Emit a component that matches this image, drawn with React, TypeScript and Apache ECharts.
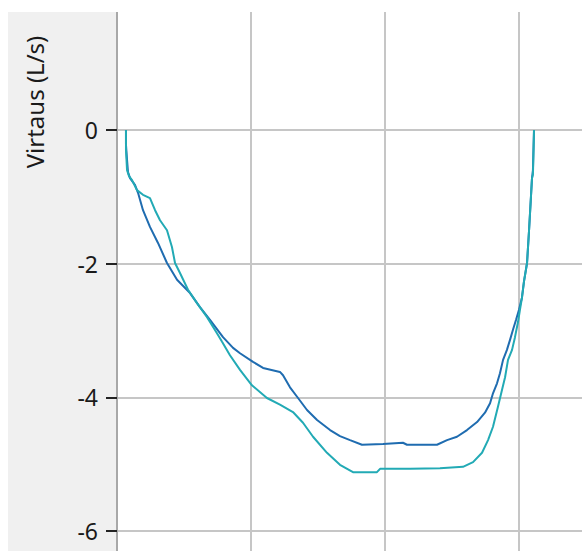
import React, { useEffect, useRef } from "react";
import * as echarts from "echarts";

const yTickLabels = [-6, -4, -2, 0];
const axisName = "Virtaus (L/s)";

// Volume (L) vs flow (L/s), first curve (dark blue)
const curveBlue: [number, number][] = [
  [0.067, 0], [0.067, -0.12], [0.067, -0.22], [0.075, -0.45], [0.082, -0.63], [0.097, -0.72],
  [0.119, -0.78], [0.134, -0.82], [0.157, -0.94], [0.194, -1.2], [0.246, -1.45], [0.306, -1.69],
  [0.373, -1.99], [0.448, -2.24], [0.545, -2.44], [0.619, -2.65], [0.694, -2.84], [0.791, -3.1],
  [0.866, -3.26], [0.918, -3.34], [1.015, -3.47], [1.09, -3.56], [1.216, -3.62], [1.239, -3.67],
  [1.291, -3.85], [1.351, -4.01], [1.418, -4.19], [1.493, -4.34], [1.59, -4.49], [1.664, -4.58],
  [1.739, -4.64], [1.828, -4.71], [1.985, -4.7], [2.134, -4.68], [2.164, -4.71], [2.388, -4.71],
  [2.463, -4.64], [2.537, -4.59], [2.612, -4.49], [2.687, -4.37], [2.746, -4.23], [2.784, -4.09],
  [2.806, -3.94], [2.836, -3.79], [2.858, -3.64], [2.881, -3.44], [2.91, -3.29], [2.933, -3.14],
  [2.955, -2.99], [2.978, -2.84], [3.0, -2.69], [3.022, -2.51], [3.037, -2.27], [3.06, -1.99],
  [3.075, -1.5], [3.09, -0.97], [3.097, -0.72], [3.104, -0.6], [3.112, 0],
];

// Second curve (teal)
const curveTeal: [number, number][] = [
  [0.067, 0], [0.067, -0.3], [0.075, -0.6], [0.09, -0.69], [0.112, -0.75], [0.149, -0.9],
  [0.194, -0.97], [0.246, -1.02], [0.284, -1.2], [0.321, -1.35], [0.373, -1.5], [0.41, -1.75],
  [0.433, -1.99], [0.47, -2.14], [0.53, -2.39], [0.597, -2.59], [0.672, -2.8], [0.746, -3.04],
  [0.784, -3.17], [0.843, -3.37], [0.918, -3.59], [1.007, -3.82], [1.119, -4.01], [1.216, -4.11],
  [1.313, -4.22], [1.388, -4.38], [1.463, -4.59], [1.567, -4.83], [1.664, -5.01], [1.761, -5.12],
  [1.94, -5.12], [1.963, -5.07], [2.187, -5.07], [2.41, -5.06], [2.582, -5.04], [2.657, -4.97],
  [2.724, -4.83], [2.769, -4.64], [2.806, -4.44], [2.843, -4.14], [2.873, -3.89], [2.896, -3.7],
  [2.918, -3.44], [2.948, -3.29], [2.97, -3.1], [2.993, -2.87], [3.007, -2.69], [3.022, -2.51],
  [3.037, -2.27], [3.06, -1.99], [3.075, -1.5], [3.09, -0.97], [3.097, -0.72], [3.104, -0.67],
  [3.112, 0],
];

export default function App() {
  const ref = useRef<HTMLDivElement>(null);
  useEffect(() => {
    if (!ref.current) return;
    const chart = echarts.init(ref.current, null, { renderer: "svg" });
    const W = 582;
    const H = 551;
    const left = 117;
    const unitX = 134;
    const unitY = 66.83;
    const y0 = 130;
    const xMin = 0, xMax = 4, yMin = -8, yMax = 2;
    const top = y0 - yMax * unitY;
    const gridH = (yMax - yMin) * unitY;
    const gridW = (xMax - xMin) * unitX;
    chart.setOption({
      animation: false,
      backgroundColor: "#ffffff",
      grid: {
        left: left,
        top: top,
        right: W - left - gridW,
        bottom: H - top - gridH,
        containLabel: false,
        outerBoundsMode: "none",
      },
      xAxis: {
        type: "value",
        min: xMin,
        max: xMax,
        interval: 1,
        axisLine: { show: false },
        axisTick: { show: false },
        axisLabel: { show: false },
        splitLine: { show: true, lineStyle: { color: "#c6c6c6", width: 2 } },
      },
      yAxis: {
        type: "value",
        min: yMin,
        max: yMax,
        interval: 2,
        axisLine: { show: true, onZero: false, lineStyle: { color: "#a8a8a8", width: 2 } },
        axisTick: { show: true, length: 11, lineStyle: { color: "#222222", width: 2 } },
        axisLabel: {
          show: true,
          margin: 19,
          color: "#1a1a1a",
          fontSize: 23,
          fontFamily: "Noto Sans",
          formatter: (v: number) => (yTickLabels.indexOf(v) >= 0 ? String(v) : ""),
        },
        splitLine: { show: true, lineStyle: { color: "#c6c6c6", width: 2 } },
      },
      graphic: [
        {
          type: "rect",
          z: -10,
          silent: true,
          shape: { x: 8, y: 12, width: 108, height: H - 12 },
          style: { fill: "#f0f0f0" },
        },
        {
          type: "text",
          z: 10,
          x: 34,
          y: 102,
          rotation: Math.PI / 2,
          style: {
            text: axisName,
            fontSize: 24,
            fontFamily: "Noto Sans",
            fill: "#1a1a1a",
            textAlign: "center",
            textVerticalAlign: "middle",
          },
        },
        {
          type: "rect",
          z: 100,
          silent: true,
          shape: { x: 0, y: 0, width: W, height: 12 },
          style: { fill: "#ffffff" },
        },
        {
          type: "rect",
          z: 100,
          silent: true,
          shape: { x: 0, y: 0, width: 8, height: H },
          style: { fill: "#ffffff" },
        },
      ],
      series: [
        {
          type: "line",
          data: curveBlue,
          showSymbol: false,
          symbol: "none",
          lineStyle: { color: "#1f6cb0", width: 2 },
          z: 3,
        },
        {
          type: "line",
          data: curveTeal,
          showSymbol: false,
          symbol: "none",
          lineStyle: { color: "#22aab5", width: 2 },
          z: 4,
        },
      ],
    });
    return () => chart.dispose();
  }, []);
  return (
    <div
      ref={ref}
      style={{ position: "fixed", left: 0, top: 0, width: 582, height: 551 }}
    />
  );
}
